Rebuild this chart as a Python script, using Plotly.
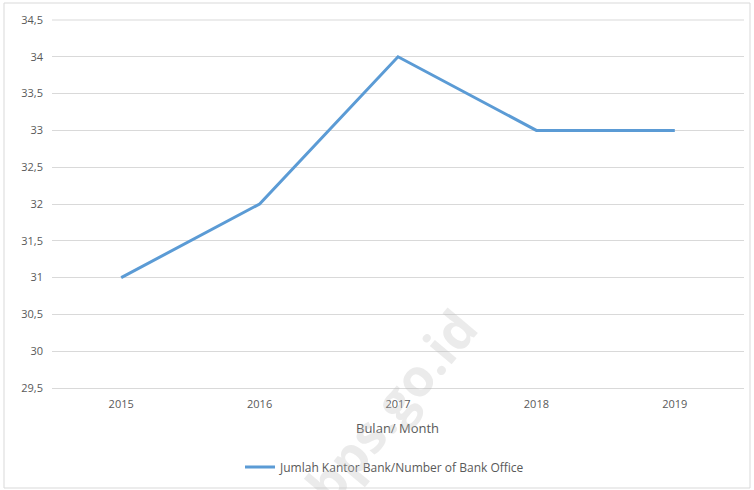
import plotly.graph_objects as go

years = ["2015", "2016", "2017", "2018", "2019"]
bank_offices = [31, 32, 34, 33, 33]
series_name = "Jumlah Kantor Bank/Number of Bank Office"
x_title = "Bulan/ Month"

W, H = 754, 490
L, R, T, B = 52, 10, 20, 102
pw, ph = W - L - R, H - T - B

def px_x(x):
    return (x - L) / pw

def px_y(y):
    return (H - B - y) / ph

fnt = "Open Sans, Liberation Sans, sans-serif"

fig = go.Figure()
fig.add_trace(go.Scatter(
    x=years, y=bank_offices, mode="lines", name=series_name,
    line=dict(color="#5B9BD5", width=3),
))

fig.update_layout(
    width=W, height=H,
    margin=dict(l=L, r=R, t=T, b=B, autoexpand=False),
    paper_bgcolor="white", plot_bgcolor="white",
    separators=",.",
    showlegend=True,
    legend=dict(orientation="h", x=px_x(385), xanchor="center",
                y=px_y(467), yanchor="middle",
                font=dict(family=fnt, size=12, color="#595959"),
                itemwidth=30),
    xaxis=dict(type="category", range=[-0.5, 4.5], showgrid=False, showline=True,
               linecolor="#d9d9d9", linewidth=1, ticks="",
               ticklabelstandoff=6,
               tickfont=dict(family=fnt, size=11, color="#595959")),
    yaxis=dict(range=[29.5, 34.5], dtick=0.5, tick0=29.5,
               showgrid=True, gridcolor="#d9d9d9", gridwidth=1,
               zeroline=False, showline=False, ticks="",
               ticklabelstandoff=8,
               tickfont=dict(family=fnt, size=11, color="#595959")),
    annotations=[
        dict(text=x_title, xref="paper", yref="paper", x=px_x(397), y=px_y(428),
             xanchor="center", yanchor="middle", showarrow=False,
             font=dict(family=fnt, size=13, color="#595959")),
        dict(text="<b>bps.go.id</b>", xref="paper", yref="paper", x=px_x(390), y=px_y(405),
             xanchor="center", yanchor="middle", showarrow=False, textangle=-50,
             font=dict(family=fnt, size=52, color="rgba(190,190,190,0.3)")),
    ],
    shapes=[
        dict(type="line", xref="paper", yref="paper", x0=0, x1=1, y0=1, y1=1,
             line=dict(color="#d9d9d9", width=1)),
        dict(type="rect", xref="paper", yref="paper",
             x0=px_x(4), x1=px_x(750), y0=px_y(488), y1=px_y(3),
             line=dict(color="#d9d9d9", width=1)),
    ],
)

fig.write_html("out.html", config={"displayModeBar": False},
               post_script="document.body.style.margin='0';")
